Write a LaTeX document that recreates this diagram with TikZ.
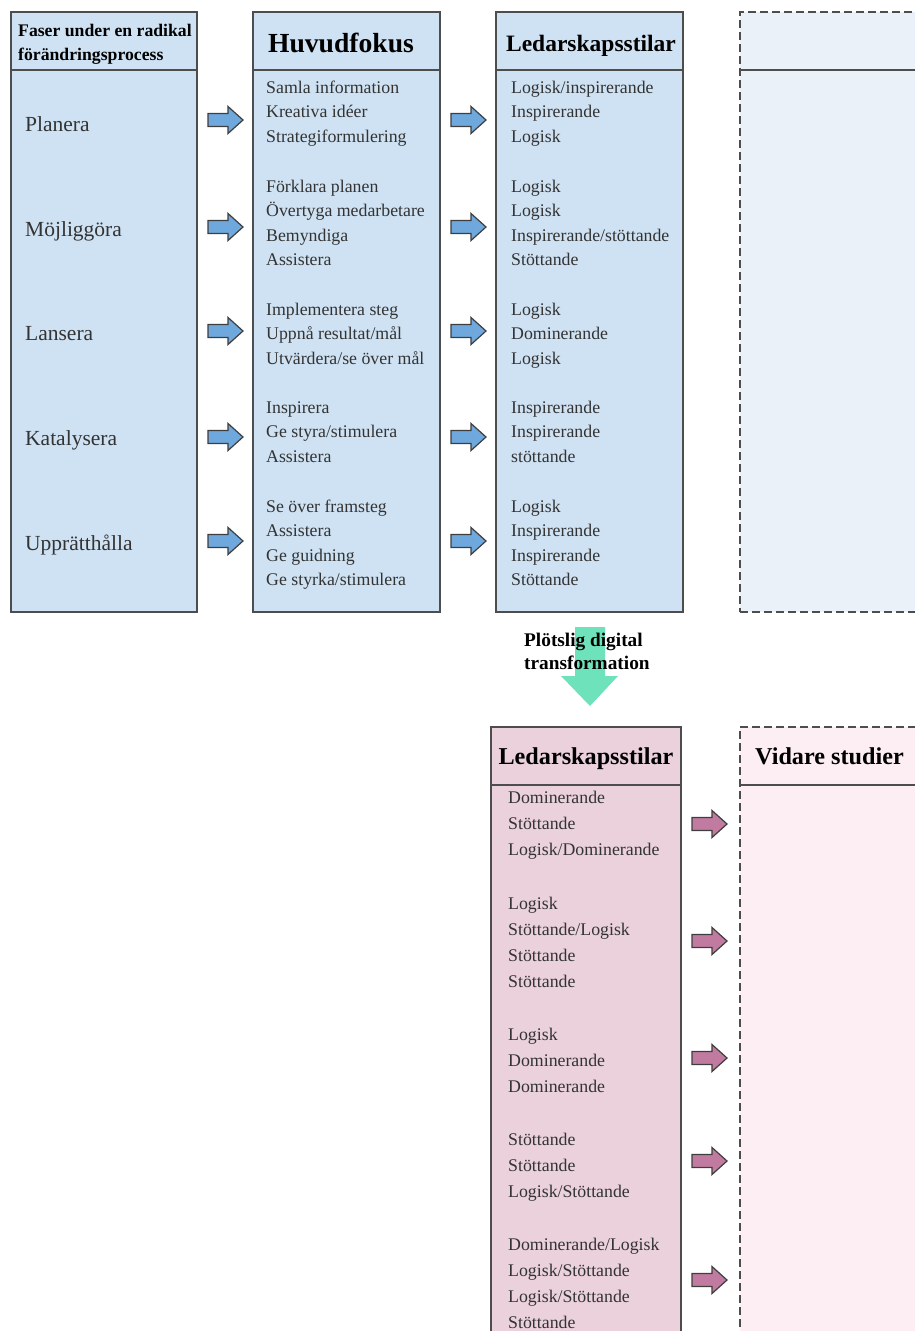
\documentclass[tikz,border=0pt]{standalone}
\usepackage{fontspec}
\setmainfont{Liberation Serif}
\definecolor{boxblue}{HTML}{CFE2F3}
\definecolor{dashblue}{HTML}{EAF1F9}
\definecolor{arrowblue}{HTML}{6FA8DC}
\definecolor{boxpink}{HTML}{EAD1DC}
\definecolor{dashpink}{HTML}{FDEEF3}
\definecolor{arrowpink}{HTML}{C27BA0}
\definecolor{mint}{HTML}{6EE2BA}
\definecolor{edge}{HTML}{4D4D4D}
\definecolor{txt}{HTML}{333333}
\tikzset{
  panel/.style={draw=edge, line width=1.4pt, anchor=north west, inner sep=0pt, outer sep=0pt},
  dpanel/.style={panel, dash pattern=on 8pt off 4pt},
  divider/.style={draw=edge, line width=1.4pt},
  item/.style={anchor=base west, inner sep=0pt, text=txt, font=\fontsize{17.8}{20}\selectfont},
  phase/.style={item, font=\fontsize{21.5}{24}\selectfont},
  head/.style={anchor=base, inner sep=0pt, text=black},
  blockarrow/.pic={\path[pic actions, draw=edge!80!black, line width=1.2pt]
    (0,-6.5) -- (20,-6.5) -- (20,-13.5) -- (35,0) -- (20,13.5) -- (20,6.5) -- (0,6.5) -- cycle;}
}
\newcommand\itemgroup[5]{\foreach \t [count=\i from 0] in {#5} \node[item] (#1-\i) at (#2,#3+\i*#4) {\t};}
\begin{document}
\begin{tikzpicture}[x=1pt,y=-1pt]
\useasboundingbox (0,0) rectangle (915,1331);
% ---- top row panels
\node[panel, fill=boxblue, minimum width=186pt, minimum height=600pt] (phases) at (11,12) {};
\node[panel, fill=boxblue, minimum width=187pt, minimum height=600pt] (focus) at (253,12) {};
\node[panel, fill=boxblue, minimum width=187pt, minimum height=600pt] (styles) at (496,12) {};
\node[dpanel, fill=dashblue, minimum width=200pt, minimum height=600pt] (extra) at (740,12) {};
\foreach \b in {phases,focus,styles,extra}
  \draw[divider] ([yshift=-58pt]\b.north west) -- ([yshift=-58pt]\b.north east);
% ---- bottom panels
\node[panel, fill=boxpink, minimum width=190pt, minimum height=640pt] (styles2) at (491,727) {};
\node[dpanel, fill=dashpink, minimum width=200pt, minimum height=640pt] (further) at (740,727) {};
\foreach \b in {styles2,further}
  \draw[divider] ([yshift=-58pt]\b.north west) -- ([yshift=-58pt]\b.north east);
% ---- headers
\node[head, anchor=base west, font=\bfseries\fontsize{17.7}{20}\selectfont] (h1a) at (18,36) {Faser under en radikal};
\node[head, anchor=base west, font=\bfseries\fontsize{17.7}{20}\selectfont] (h1b) at (18,60) {förändringsprocess};
\node[head, font=\bfseries\fontsize{27.6}{30}\selectfont] (h2) at (341,52) {Huvudfokus};
\node[head, font=\bfseries\fontsize{23.5}{26}\selectfont] (h3) at (591,51) {Ledarskapsstilar};
\node[head, font=\bfseries\fontsize{24.2}{27}\selectfont] (h4) at (586,764) {Ledarskapsstilar};
\node[head, anchor=base west, font=\bfseries\fontsize{24.2}{27}\selectfont] (h5) at (755,764) {Vidare studier};
% ---- phases
\node[phase] (p1) at (25,131) {Planera};
\node[phase] (p2) at (25,236) {Möjliggöra};
\node[phase] (p3) at (25,340) {Lansera};
\node[phase] (p4) at (25,445) {Katalysera};
\node[phase] (p5) at (25,550) {Upprätthålla};
% ---- focus items
\itemgroup{f1}{266}{93}{24.5}{Samla information, Kreativa idéer, Strategiformulering}
\itemgroup{f2}{266}{192}{24.5}{Förklara planen, Övertyga medarbetare, Bemyndiga, Assistera}
\itemgroup{f3}{266}{315}{24.5}{Implementera steg, Uppnå resultat/mål, Utvärdera/se över mål}
\itemgroup{f4}{266}{413}{24.5}{Inspirera, Ge styra/stimulera, Assistera}
\itemgroup{f5}{266}{512}{24.5}{Se över framsteg, Assistera, Ge guidning, Ge styrka/stimulera}
% ---- style items
\itemgroup{s1}{511}{93}{24.5}{Logisk/inspirerande, Inspirerande, Logisk}
\itemgroup{s2}{511}{192}{24.5}{Logisk, Logisk, Inspirerande/stöttande, Stöttande}
\itemgroup{s3}{511}{315}{24.5}{Logisk, Dominerande, Logisk}
\itemgroup{s4}{511}{413}{24.5}{Inspirerande, Inspirerande, stöttande}
\itemgroup{s5}{511}{512}{24.5}{Logisk, Inspirerande, Inspirerande, Stöttande}
% ---- new style items
\itemgroup{t1}{508}{803}{26.2}{Dominerande, Stöttande, Logisk/Dominerande}
\itemgroup{t2}{508}{909}{26.2}{Logisk, Stöttande/Logisk, Stöttande, Stöttande}
\itemgroup{t3}{508}{1040}{26.2}{Logisk, Dominerande, Dominerande}
\itemgroup{t4}{508}{1145}{26.2}{Stöttande, Stöttande, Logisk/Stöttande}
\itemgroup{t5}{508}{1250}{26.2}{Dominerande/Logisk, Logisk/Stöttande, Logisk/Stöttande, Stöttande}
% ---- block arrows
\foreach \y [count=\k] in {120,227,331,437,541}{
  \pic[fill=arrowblue] (a\k-) at (208,\y) {blockarrow};
  \pic[fill=arrowblue] (b\k-) at (451,\y) {blockarrow};
}
\foreach \y [count=\k] in {824,941,1058,1161,1280}
  \pic[fill=arrowpink] (c\k-) at (692,\y) {blockarrow};
% ---- transformation arrow
\fill[mint] (575,627) -- (605,627) -- (605,676) -- (618,676) -- (590,706) -- (561,676) -- (575,676) -- cycle;
\node[head, anchor=base west, font=\bfseries\fontsize{19.3}{22}\selectfont] (tr1) at (524,646) {Plötslig digital};
\node[head, anchor=base west, font=\bfseries\fontsize{19.3}{22}\selectfont] (tr2) at (524,669) {transformation};
\end{tikzpicture}
\end{document}
